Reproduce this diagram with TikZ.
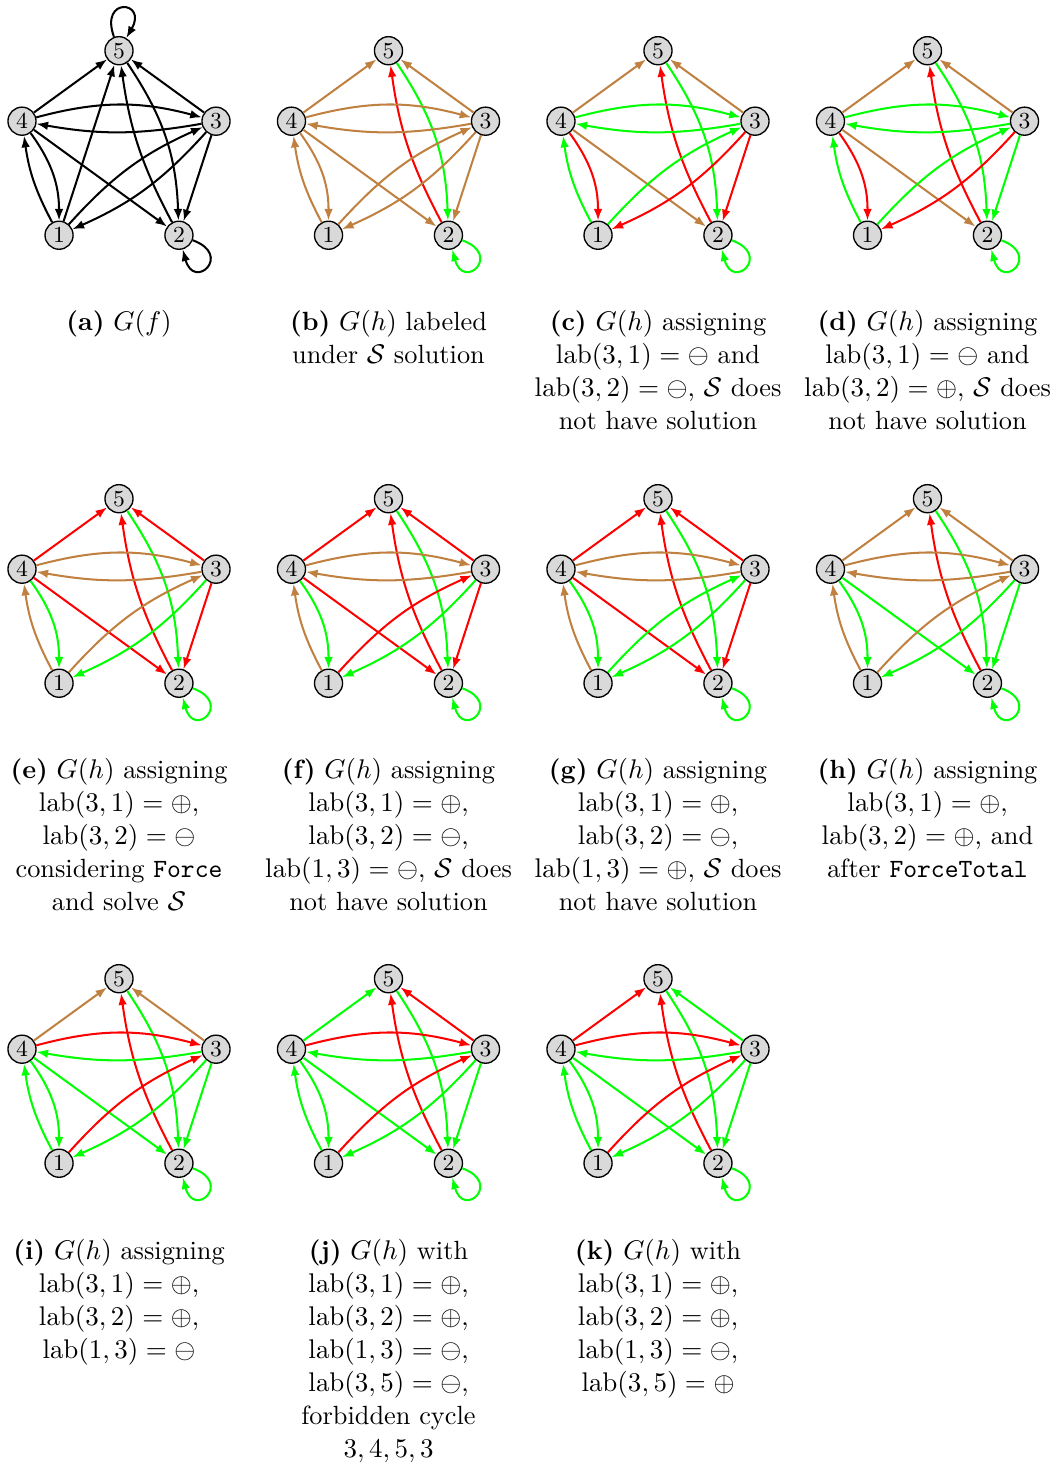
\documentclass[tikz,border=0pt]{standalone}
\usepackage{amsmath,amssymb}
\usetikzlibrary{arrows.meta}
\definecolor{cB}{rgb}{0.75,0.5,0.25}
\definecolor{cG}{rgb}{0,1,0}
\definecolor{cR}{rgb}{1,0,0}
\tikzset{
  vtx/.style={circle,draw,line width=0.5pt,fill=black!15,minimum size=10.4pt,inner sep=0pt,font=\fontsize{8.5}{10}\selectfont},
  edg/.style={line width=0.75pt,-{Latex[length=4.3pt,width=3.2pt]}},
  p45/.style={}, p35/.style={}, p15/.style={}, p42/.style={}, p32/.style={},
  p25/.style={bend left=10}, p52/.style={bend left=16},
  p43/.style={bend left=15}, p34/.style={bend left=10},
  p14/.style={bend left=10}, p41/.style={bend left=18},
  p13/.style={bend left=12}, p31/.style={bend left=12},
  p22/.style={out=-20,in=-75,distance=16pt},
  p55/.style={out=110,in=60,distance=16pt},
  captxt/.style={anchor=north,align=center,inner sep=0pt,font=\fontsize{9.75}{12.2}\selectfont},
}
\newcommand\pgraph[3]{%
  \begin{scope}[shift={(#2,-#3-102)}]
    \node[vtx] (#1-5) at (90:102) {5};
    \node[vtx] (#1-4) at (162:102) {4};
    \node[vtx] (#1-1) at (234:102) {1};
    \node[vtx] (#1-2) at (306:102) {2};
    \node[vtx] (#1-3) at (18:102) {3};
  \end{scope}}
\newcommand\pedges[2]{%
  \foreach \s/\t/\c in {#2}{%
    \edef\tmp{\noexpand\draw[edg,color=\c] (#1-\s) to[p\s\t] (#1-\t);}\tmp}}
\newcommand\lb[1]{\mathrm{lab}(#1)}
\begin{document}
\begin{tikzpicture}[x=0.37037pt,y=0.37037pt]
\useasboundingbox (0,0) rectangle (1053,-1464);
% graphs
\pgraph{a}{119}{50.7}
\pgraph{b}{388.5}{50.7}
\pgraph{c}{658}{50.7}
\pgraph{d}{927.5}{50.7}
\pgraph{e}{119}{498.7}
\pgraph{f}{388.5}{498.7}
\pgraph{g}{658}{498.7}
\pgraph{h}{927.5}{498.7}
\pgraph{i}{119}{978.7}
\pgraph{j}{388.5}{978.7}
\pgraph{k}{658}{978.7}
% edges
\pedges{a}{5/5/black,2/2/black,4/5/black,3/5/black,1/5/black,2/5/black,5/2/black,4/3/black,3/4/black,1/4/black,4/1/black,4/2/black,1/3/black,3/1/black,3/2/black}
\pedges{b}{4/5/cB,3/5/cB,2/5/cR,5/2/cG,4/3/cB,3/4/cB,1/4/cB,4/1/cB,4/2/cB,1/3/cB,3/1/cB,3/2/cB,2/2/cG}
\pedges{c}{4/5/cB,3/5/cB,2/5/cR,5/2/cG,4/3/cG,3/4/cG,1/4/cG,4/1/cR,4/2/cB,1/3/cG,3/1/cR,3/2/cR,2/2/cG}
\pedges{d}{4/5/cB,3/5/cB,2/5/cR,5/2/cG,4/3/cG,3/4/cG,1/4/cG,4/1/cR,4/2/cB,1/3/cG,3/1/cR,3/2/cG,2/2/cG}
\pedges{e}{4/5/cR,3/5/cR,2/5/cR,5/2/cG,4/3/cB,3/4/cB,1/4/cB,4/1/cG,4/2/cR,1/3/cB,3/1/cG,3/2/cR,2/2/cG}
\pedges{f}{4/5/cR,3/5/cR,2/5/cR,5/2/cG,4/3/cB,3/4/cB,1/4/cB,4/1/cG,4/2/cR,1/3/cR,3/1/cG,3/2/cR,2/2/cG}
\pedges{g}{4/5/cR,3/5/cR,2/5/cR,5/2/cG,4/3/cB,3/4/cB,1/4/cB,4/1/cG,4/2/cR,1/3/cG,3/1/cG,3/2/cR,2/2/cG}
\pedges{h}{4/5/cB,3/5/cB,2/5/cR,5/2/cG,4/3/cB,3/4/cB,1/4/cB,4/1/cG,4/2/cG,1/3/cB,3/1/cG,3/2/cG,2/2/cG}
\pedges{i}{4/5/cB,3/5/cB,2/5/cR,5/2/cG,4/3/cR,3/4/cG,1/4/cG,4/1/cG,4/2/cG,1/3/cR,3/1/cG,3/2/cG,2/2/cG}
\pedges{j}{4/5/cG,3/5/cR,2/5/cR,5/2/cG,4/3/cR,3/4/cG,1/4/cG,4/1/cG,4/2/cG,1/3/cR,3/1/cG,3/2/cG,2/2/cG}
\pedges{k}{4/5/cR,3/5/cG,2/5/cR,5/2/cG,4/3/cR,3/4/cG,1/4/cG,4/1/cG,4/2/cG,1/3/cR,3/1/cG,3/2/cG,2/2/cG}
% captions
\node[captxt] (ca) at (119,-310) {\textbf{(a)} $G(f)$};
\node[captxt] (cb) at (388.5,-310) {\textbf{(b)} $G(h)$ labeled\\under $\mathcal{S}$ solution};
\node[captxt] (cc) at (658,-310) {\textbf{(c)} $G(h)$ assigning\\$\lb{3,1}=\ominus$ and\\$\lb{3,2}=\ominus$, $\mathcal{S}$ does\\not have solution};
\node[captxt] (cd) at (927.5,-310) {\textbf{(d)} $G(h)$ assigning\\$\lb{3,1}=\ominus$ and\\$\lb{3,2}=\oplus$, $\mathcal{S}$ does\\not have solution};
\node[captxt] (ce) at (119,-758) {\textbf{(e)} $G(h)$ assigning\\$\lb{3,1}=\oplus$,\\$\lb{3,2}=\ominus$\\considering \texttt{Force}\\and solve $\mathcal{S}$};
\node[captxt] (cf) at (388.5,-758) {\textbf{(f)} $G(h)$ assigning\\$\lb{3,1}=\oplus$,\\$\lb{3,2}=\ominus$,\\$\lb{1,3}=\ominus$, $\mathcal{S}$ does\\not have solution};
\node[captxt] (cg) at (658,-758) {\textbf{(g)} $G(h)$ assigning\\$\lb{3,1}=\oplus$,\\$\lb{3,2}=\ominus$,\\$\lb{1,3}=\oplus$, $\mathcal{S}$ does\\not have solution};
\node[captxt] (ch) at (927.5,-758) {\textbf{(h)} $G(h)$ assigning\\$\lb{3,1}=\oplus$,\\$\lb{3,2}=\oplus$, and\\after \texttt{ForceTotal}};
\node[captxt] (ci) at (119,-1239) {\textbf{(i)} $G(h)$ assigning\\$\lb{3,1}=\oplus$,\\$\lb{3,2}=\oplus$,\\$\lb{1,3}=\ominus$};
\node[captxt] (cj) at (388.5,-1239) {\textbf{(j)} $G(h)$ with\\$\lb{3,1}=\oplus$,\\$\lb{3,2}=\oplus$,\\$\lb{1,3}=\ominus$,\\$\lb{3,5}=\ominus$,\\forbidden cycle\\$3,4,5,3$};
\node[captxt] (ck) at (658,-1239) {\textbf{(k)} $G(h)$ with\\$\lb{3,1}=\oplus$,\\$\lb{3,2}=\oplus$,\\$\lb{1,3}=\ominus$,\\$\lb{3,5}=\oplus$};
\end{tikzpicture}
\end{document}
